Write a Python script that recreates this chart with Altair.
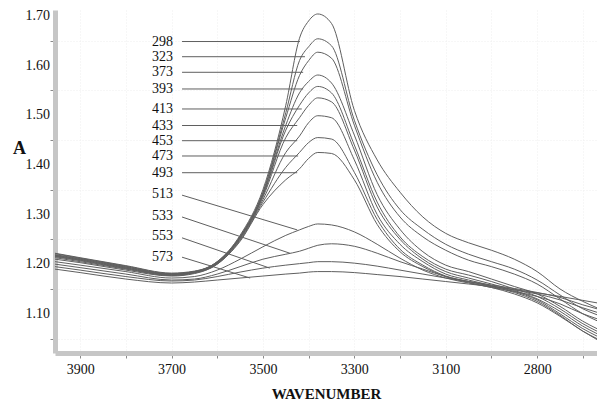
import altair as alt
import pandas as pd

# wavenumber grid (cm-1) at which the curves were read
wavenumber = [3955, 3900, 3800, 3700, 3650, 3600, 3550, 3500, 3450, 3420, 3400, 3380,
              3350, 3300, 3250, 3200, 3150, 3100, 3050, 3000, 2950, 2900, 2850, 2800, 2769]

temps = ["298", "323", "373", "393", "413", "433", "453", "473", "493", "513", "533", "553", "573"]

a_298 = [1.222, 1.213, 1.197, 1.182, 1.186, 1.205, 1.258, 1.350, 1.520, 1.655, 1.690, 1.704, 1.685, 1.510, 1.410, 1.345, 1.295, 1.262, 1.243, 1.228, 1.210, 1.185, 1.150, 1.125, 1.112]
a_323 = [1.221, 1.212, 1.196, 1.181, 1.185, 1.205, 1.256, 1.345, 1.505, 1.610, 1.638, 1.654, 1.640, 1.490, 1.380, 1.310, 1.270, 1.240, 1.220, 1.205, 1.190, 1.168, 1.138, 1.110, 1.098]
a_373 = [1.219, 1.211, 1.195, 1.180, 1.185, 1.204, 1.255, 1.343, 1.495, 1.580, 1.610, 1.627, 1.615, 1.480, 1.365, 1.295, 1.255, 1.228, 1.208, 1.195, 1.180, 1.160, 1.130, 1.100, 1.086]
a_393 = [1.218, 1.210, 1.194, 1.180, 1.184, 1.203, 1.254, 1.340, 1.480, 1.545, 1.568, 1.581, 1.565, 1.460, 1.340, 1.270, 1.225, 1.198, 1.185, 1.170, 1.155, 1.140, 1.115, 1.085, 1.070]
a_413 = [1.217, 1.209, 1.193, 1.179, 1.184, 1.203, 1.253, 1.338, 1.470, 1.520, 1.545, 1.558, 1.545, 1.440, 1.325, 1.255, 1.215, 1.190, 1.178, 1.165, 1.150, 1.135, 1.110, 1.080, 1.065]
a_433 = [1.216, 1.208, 1.192, 1.178, 1.183, 1.202, 1.252, 1.335, 1.455, 1.495, 1.520, 1.535, 1.527, 1.430, 1.315, 1.250, 1.210, 1.185, 1.172, 1.160, 1.147, 1.130, 1.105, 1.075, 1.060]
a_453 = [1.215, 1.207, 1.191, 1.178, 1.183, 1.201, 1.250, 1.330, 1.425, 1.458, 1.485, 1.499, 1.495, 1.410, 1.300, 1.240, 1.205, 1.180, 1.168, 1.157, 1.145, 1.128, 1.100, 1.070, 1.055]
a_473 = [1.213, 1.205, 1.190, 1.177, 1.182, 1.200, 1.248, 1.325, 1.395, 1.425, 1.445, 1.455, 1.452, 1.385, 1.290, 1.230, 1.198, 1.176, 1.165, 1.155, 1.143, 1.125, 1.097, 1.065, 1.050]
a_493 = [1.210, 1.203, 1.188, 1.176, 1.181, 1.200, 1.246, 1.320, 1.370, 1.392, 1.413, 1.425, 1.423, 1.370, 1.280, 1.225, 1.195, 1.175, 1.163, 1.153, 1.140, 1.122, 1.095, 1.065, 1.048]
a_513 = [1.205, 1.198, 1.185, 1.172, 1.175, 1.188, 1.210, 1.235, 1.258, 1.269, 1.276, 1.281, 1.279, 1.265, 1.240, 1.212, 1.188, 1.172, 1.162, 1.153, 1.145, 1.135, 1.120, 1.100, 1.090]
a_533 = [1.200, 1.193, 1.180, 1.168, 1.170, 1.180, 1.195, 1.210, 1.220, 1.226, 1.232, 1.238, 1.241, 1.236, 1.222, 1.205, 1.190, 1.175, 1.165, 1.156, 1.148, 1.140, 1.128, 1.112, 1.103]
a_553 = [1.195, 1.188, 1.175, 1.166, 1.168, 1.175, 1.184, 1.192, 1.198, 1.201, 1.203, 1.205, 1.205, 1.202, 1.196, 1.188, 1.180, 1.172, 1.165, 1.158, 1.151, 1.143, 1.133, 1.118, 1.110]
a_573 = [1.190, 1.183, 1.170, 1.162, 1.164, 1.168, 1.172, 1.176, 1.180, 1.182, 1.184, 1.185, 1.185, 1.183, 1.179, 1.175, 1.170, 1.165, 1.160, 1.155, 1.149, 1.142, 1.135, 1.127, 1.122]

series = [a_298, a_323, a_373, a_393, a_413, a_433, a_453, a_473, a_493,
          a_513, a_533, a_553, a_573]

# y tick labels shown on the absorbance axis
y_label_values = [1.10, 1.20, 1.30, 1.40, 1.50, 1.60, 1.70]

# annotation labels (temperature) and their leader lines, in data units
label_wn = 3697
label_abs = [1.6485, 1.6179, 1.5865, 1.5529, 1.5126, 1.4793, 1.4487, 1.4179, 1.3842,
             1.3413, 1.2980, 1.2567, 1.2150]
leader_start_wn = 3677
leader_start_abs = [1.6485, 1.6179, 1.5865, 1.5529, 1.5126, 1.4793, 1.4487, 1.4179, 1.3842,
                    1.339, 1.295, 1.253, 1.214]
leader_end_wn = [3419, 3408, 3412, 3412, 3415, 3425, 3425, 3423, 3425, 3425, 3441, 3485, 3528]
leader_end_abs = [1.6485, 1.6179, 1.5865, 1.5529, 1.5126, 1.4793, 1.4487, 1.4179, 1.3842,
                  1.269, 1.222, 1.192, 1.172]

rows = []
for t, vals in zip(temps, series):
    for w, a in zip(wavenumber, vals):
        rows.append({"T": t, "wn": w, "A": a})
curves = pd.DataFrame(rows)

ann = pd.DataFrame({
    "T": temps,
    "lwn": [label_wn] * len(temps),
    "la": label_abs,
    "swn": [leader_start_wn] * len(temps),
    "sa": leader_start_abs,
    "ewn": leader_end_wn,
    "ea": leader_end_abs,
})

ylab = pd.DataFrame({"v": y_label_values, "txt": [f"{v:.2f}" for v in y_label_values]})

FONT = "Liberation Serif"
xscale = alt.Scale(domain=[3955, 2769], nice=False, zero=False)
yscale = alt.Scale(domain=[1.021, 1.712], nice=False, zero=False)

x_ticks = list(range(3900, 2799, -100))
y_ticks = [1.05, 1.10, 1.15, 1.20, 1.25, 1.30, 1.35, 1.40, 1.45, 1.50, 1.55, 1.60, 1.65, 1.70]

xaxis = alt.Axis(
    values=x_ticks,
    labelExpr="datum.value == 2900 ? '2800' : (datum.value % 200 == 100 ? format(datum.value, 'd') : '')",
    labelOverlap=False,
    title="WAVENUMBER",
    titleFontSize=15,
    titleY=40,
    titleBaseline="middle",
    labelPadding=4,
)
yaxis = alt.Axis(
    values=y_ticks,
    labels=False,
    title="A",
    titleAngle=0,
    titleX=-36,
    titleY=138,
    titleAlign="center",
    titleBaseline="middle",
    titleFontSize=18,
)

lines = alt.Chart(curves).mark_line(
    color="#5f5f5f", strokeWidth=1, interpolate="monotone", clip=True
).encode(
    x=alt.X("wn:Q", scale=xscale, axis=xaxis),
    y=alt.Y("A:Q", scale=yscale, axis=yaxis),
    detail="T:N",
)

leaders = alt.Chart(ann).mark_rule(color="#5f5f5f", strokeWidth=1).encode(
    x=alt.X("swn:Q", scale=xscale),
    x2="ewn:Q",
    y=alt.Y("sa:Q", scale=yscale),
    y2="ea:Q",
)

labels = alt.Chart(ann).mark_text(
    align="right", baseline="middle", font=FONT, fontSize=14, color="#111111"
).encode(
    x=alt.X("lwn:Q", scale=xscale),
    y=alt.Y("la:Q", scale=yscale),
    text="T:N",
)

ytext = alt.Chart(ylab).mark_text(
    align="right", baseline="middle", font=FONT, fontSize=14, color="#111111", dx=-5
).encode(
    x=alt.value(0),
    y=alt.Y("v:Q", scale=yscale),
    text="txt:N",
)

chart = alt.layer(lines, leaders, labels, ytext).properties(
    width=542,
    height=343,
    autosize=alt.AutoSizeParams(type="none"),
    padding={"left": 55, "top": 10, "right": 0, "bottom": 53},
).configure_view(
    stroke="transparent"
).configure_axis(
    domainColor="#c6c6c6",
    domainWidth=5,
    tickColor="#8a8a8a",
    tickSize=5,
    tickWidth=1,
    grid=True,
    gridColor="#eeeeee",
    gridDash=[1, 2],
    labelFont=FONT,
    labelFontSize=14,
    labelColor="#111111",
    titleFont=FONT,
    titleFontWeight="bold",
    titleColor="#111111",
)

chart.save("out.html", embed_options={"renderer": "svg", "actions": False})
